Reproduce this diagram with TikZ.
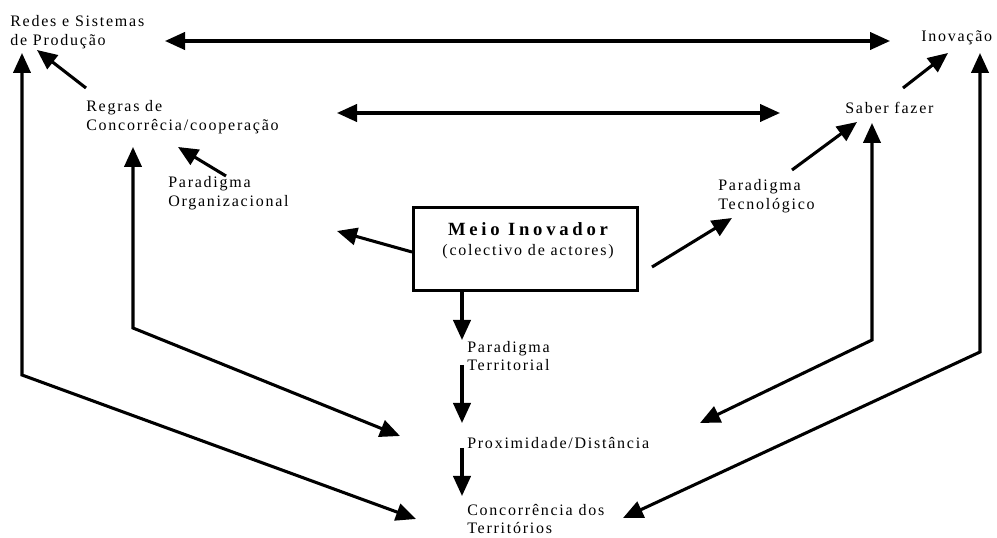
\documentclass[tikz,border=0pt]{standalone}
\usepackage{fontspec}
\setmainfont{Liberation Serif}[LetterSpace=11]
\usetikzlibrary{arrows.meta}

\tikzset{
  lbl/.style={anchor=west, align=left, inner sep=0pt, font=\fontsize{12}{14}\selectfont},
  arr/.style={-{Triangle[length=15pt,width=13pt]}, line width=2.3pt, line join=miter},
  dblarr/.style={{Triangle[length=15pt,width=13pt]}-{Triangle[length=15pt,width=13pt]}, line width=2.3pt, line join=miter},
  meiobox/.style={draw, line width=2.2pt, minimum width=168pt, minimum height=62pt, inner sep=0pt}
}

\begin{document}
\begin{tikzpicture}[x=0.75pt, y=-0.75pt]
    \useasboundingbox (0,0) rectangle (997,538);

    % texts
    \node[lbl] (redes) at (10, 32) {Redes e Sistemas\\de Produção};
    \node[lbl] (inov) at (921, 38) {Inovação};
    \node[lbl] (regras) at (86, 117) {Regras de\\Concorrêcia/cooperação};
    \node[lbl] (saber) at (845, 108) {Saber fazer};
    \node[lbl] (porg) at (168, 193) {Paradigma\\Organizacional};
    \node[lbl] (ptec) at (718, 196) {Paradigma\\Tecnológico};
    \node[meiobox] (meio) at (525.5, 249) {};
    \node[align=center, inner sep=0pt] (meiot) at (528, 241)
        {{\fontsize{14}{16}\selectfont\bfseries\addfontfeature{LetterSpace=20}Meio Inovador}\\[3pt]
         {\fontsize{12}{14}\selectfont (colectivo de actores)}};
    \node[lbl] (pter) at (467, 356) {Paradigma\\Territorial};
    \node[lbl] (prox) at (467, 443) {Proximidade/Distância};
    \node[lbl] (conct) at (467, 519) {Concorrência dos\\Territórios};

    % tips and corners
    \coordinate (topL) at (165, 41);
    \coordinate (topR) at (890, 41);
    \coordinate (midL) at (337, 113);
    \coordinate (midR) at (780, 113);
    \coordinate (orgL) at (337, 231);
    \coordinate (tecR) at (732, 218);
    \coordinate (lo1) at (22, 53);
    \coordinate (lo2) at (22, 375);
    \coordinate (lo3) at (416, 519);
    \coordinate (li1) at (133, 147);
    \coordinate (li2) at (133, 328);
    \coordinate (li3) at (400, 436);
    \coordinate (ri1) at (872, 123);
    \coordinate (ri2) at (872, 340);
    \coordinate (ri3) at (700, 423);
    \coordinate (ro1) at (980, 53);
    \coordinate (ro2) at (980, 352);
    \coordinate (ro3) at (623, 518);

    \draw[dblarr] (topL) -- (topR);
    \draw[dblarr] (midL) -- (midR);

    \draw[arr] (86, 88) -- (37, 50);
    \draw[arr] (903, 88) -- (948, 53);
    \draw[arr] (226, 176) -- (178, 147);
    \draw[arr] (792, 170) -- (857, 122);

    \draw[arr] (meio.west |- 0, 252) -- (orgL);
    \draw[arr] (652, 267) -- (tecR);

    \draw[arr] (462, 291) -- (462, 340);
    \draw[arr] (462, 365) -- (462, 423);
    \draw[arr] (462, 448) -- (462, 496);

    \draw[dblarr] (lo1) -- (lo2) -- (lo3);
    \draw[dblarr] (li1) -- (li2) -- (li3);
    \draw[dblarr] (ri1) -- (ri2) -- (ri3);
    \draw[dblarr] (ro1) -- (ro2) -- (ro3);
\end{tikzpicture}
\end{document}
